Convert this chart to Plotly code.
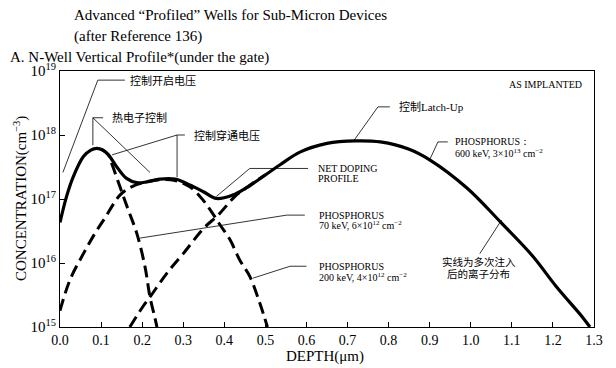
import math
import plotly.graph_objects as go

# ---------------- data ----------------
net_depth = [0.0, 0.016, 0.032, 0.057, 0.075, 0.089, 0.105, 0.118, 0.138, 0.162, 0.187,
             0.211, 0.243, 0.28, 0.316, 0.349, 0.381, 0.42, 0.454, 0.535, 0.584, 0.65,
             0.72, 0.78, 0.85, 0.90, 0.99, 1.075, 1.15, 1.208, 1.273, 1.29]
net_conc = [4.3e16, 1.1e17, 2.2e17, 4.6e17, 5.8e17, 6.2e17, 5.8e17, 4.9e17, 3.2e17, 2.1e17, 1.8e17,
            1.85e17, 2.05e17, 2.05e17, 1.66e17, 1.3e17, 1.02e17, 1.15e17, 1.5e17, 3.4e17, 5.4e17, 7.4e17,
            8.1e17, 7.8e17, 6.0e17, 4.1e17, 1.5e17, 4.2e16, 1.3e16, 4.3e15, 1.4e15, 1.0e15]

p70_depth = [0.10, 0.118, 0.126, 0.146, 0.166, 0.187, 0.207, 0.219, 0.231, 0.236]
p70_conc = [6.0e17, 4.9e17, 3.6e17, 1.55e17, 6.8e16, 2.9e16, 8.7e15, 2.95e15, 1.4e15, 1.0e15]

p200_depth = [0.0, 0.024, 0.057, 0.085, 0.109, 0.146, 0.174, 0.203, 0.243, 0.28, 0.316,
              0.349, 0.369, 0.389, 0.414, 0.438, 0.462, 0.487, 0.505]
p200_conc = [1.8e15, 5.4e15, 1.4e16, 2.9e16, 5.0e16, 1.15e17, 1.55e17, 1.8e17, 2.0e17, 1.95e17, 1.55e17,
             9.5e16, 6.3e16, 4.0e16, 2.3e16, 1.1e16, 6.2e15, 2.3e15, 1.0e15]

p600_depth = [0.17, 0.20, 0.22, 0.26, 0.30, 0.35, 0.385, 0.426, 0.454, 0.50]
p600_conc = [1.0e15, 2.0e15, 3.0e15, 6.9e15, 1.4e16, 3.5e16, 5.6e16, 1.1e17, 1.5e17, 2.4e17]

x_ticks = [0.0, 0.1, 0.2, 0.3, 0.4, 0.5, 0.6, 0.7, 0.8, 0.9, 1.0, 1.1, 1.2, 1.3]
y_ticks = [1e15, 1e16, 1e17, 1e18, 1e19]
y_tick_text = ["10<sup>15</sup>", "10<sup>16</sup>", "10<sup>17</sup>", "10<sup>18</sup>", "10<sup>19</sup>"]

# leader lines (depth list, concentration list)
leaders = [
    ([0.007, 0.092, 0.158], [2.6e17, 7.2e18, 7.2e18]),
    ([0.219, 0.080, 0.080], [2.6e17, 1.86e18, 6.9e17]),
    ([0.080, 0.105], [1.86e18, 1.86e18]),
    ([0.127, 0.285, 0.285], [4.9e17, 1.0e18, 2.2e17]),
    ([0.285, 0.304], [1.0e18, 1.0e18]),
    ([0.713, 0.774, 0.803], [7.8e17, 2.75e18, 2.75e18]),
    ([0.90, 0.92, 0.944], [4.1e17, 7.8e17, 7.8e17]),
    ([0.381, 0.462, 0.604], [1.1e17, 3.0e17, 3.0e17]),
    ([0.195, 0.552, 0.596], [2.45e16, 5.6e16, 5.6e16]),
    ([0.470, 0.56, 0.60], [5.8e15, 8.9e15, 8.9e15]),
    ([1.075, 1.022], [4.7e16, 1.4e16]),
]

SERIF = "Liberation Serif, Times New Roman, serif"
MIXED = "Liberation Serif, Noto Sans CJK SC, serif"

fig = go.Figure()

for dx, dy in [(p200_depth, p200_conc), (p600_depth, p600_conc), (p70_depth, p70_conc)]:
    fig.add_trace(go.Scatter(x=dx, y=dy, mode="lines", line_shape="spline",
                             line=dict(color="black", width=3, dash="12px,6px"), hoverinfo="skip"))
fig.add_trace(go.Scatter(x=net_depth, y=net_conc, mode="lines", line_shape="spline",
                         line=dict(color="black", width=3.2), hoverinfo="skip"))

for lx, ly in leaders:
    fig.add_trace(go.Scatter(x=lx, y=ly, mode="lines", line=dict(color="black", width=0.8),
                             hoverinfo="skip"))


def lab(text, x, conc, anchor="left", size=10, font=SERIF):
    fig.add_annotation(x=x, y=math.log10(conc), xref="x", yref="y", text=text, showarrow=False,
                       xanchor=anchor, yanchor="middle", font=dict(family=font, size=size, color="black"))


lab("控制开启电压", 0.165, 7.2e18, size=11, font=MIXED)
lab("热电子控制", 0.122, 1.86e18, size=11, font=MIXED)
lab("控制穿通电压", 0.321, 1.0e18, size=11, font=MIXED)
lab("控制Latch-Up", 0.82, 2.75e18, size=11, font=MIXED)
lab("AS IMPLANTED", 1.275, 6.2e18, anchor="right", size=10)
lab("PHOSPHORUS：", 0.956, 7.8e17)
lab("600 keV, 3×10<sup>13</sup> cm<sup>−2</sup>", 0.956, 5.3e17)
lab("NET DOPING", 0.622, 3.0e17)
lab("PROFILE", 0.622, 2.1e17)
lab("PHOSPHORUS", 0.625, 5.6e16)
lab("70 keV, 6×10<sup>12</sup> cm<sup>−2</sup>", 0.625, 3.9e16)
lab("PHOSPHORUS", 0.625, 8.9e15)
lab("200 keV, 4×10<sup>12</sup> cm<sup>−2</sup>", 0.625, 6.0e15)
lab("实线为多次注入", 1.02, 1.05e16, anchor="center", size=10.5, font=MIXED)
lab("后的离子分布", 1.02, 6.8e15, anchor="center", size=10.5, font=MIXED)


def ptxt(text, px, py, size=15, anchor="left", angle=0):
    fig.add_annotation(x=(px - 60) / 534, y=(327 - py) / 256, xref="paper", yref="paper", text=text,
                       showarrow=False, xanchor=anchor, yanchor="middle", textangle=angle,
                       font=dict(family=SERIF, size=size, color="black"))


ptxt("Advanced “Profiled” Wells for Sub‑Micron Devices", 72, 15)
ptxt("(after Reference 136)", 72, 36)
ptxt("A. N‑Well Vertical Profile*(under the gate)", 8, 57)
ptxt("DEPTH(μm)", 325, 356, anchor="center")
ptxt("CONCENTRATION(cm<sup>−3</sup>)", 20, 199, anchor="center", angle=-90)

fig.update_layout(
    width=616, height=368, autosize=False,
    margin=dict(l=60, r=22, t=71, b=41),
    paper_bgcolor="white", plot_bgcolor="white",
    showlegend=False,
    xaxis=dict(range=[0, 1.3], tickvals=x_ticks, tickformat=".1f", ticks="inside", ticklen=5,
               tickcolor="black", showline=True, linecolor="black", linewidth=1, mirror=True,
               showgrid=False, zeroline=False, tickfont=dict(family=SERIF, size=14, color="black")),
    yaxis=dict(type="log", range=[15, 19], tickvals=y_ticks, ticktext=y_tick_text, ticks="inside",
               ticklen=5, tickcolor="black", showline=True, linecolor="black", linewidth=1,
               mirror=True, showgrid=False, zeroline=False,
               tickfont=dict(family=SERIF, size=15, color="black")),
)

fig.write_html("out.html", config={"displayModeBar": False},
               post_script="document.body.style.margin='0';")
